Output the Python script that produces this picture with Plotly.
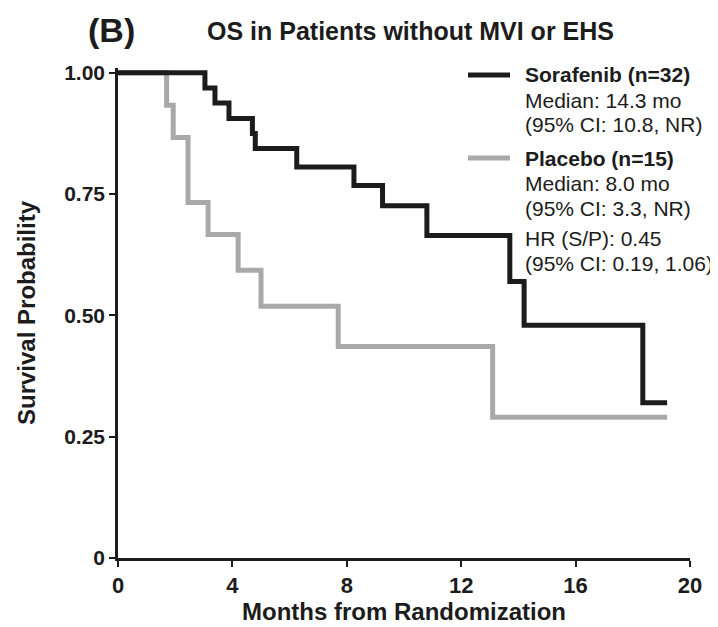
import plotly.graph_objects as go

# Kaplan-Meier step data (months, survival probability)
sora_t = [0, 3.04, 3.39, 3.88, 4.7, 4.8, 6.25, 8.25, 9.25, 10.8, 13.7, 14.2, 18.35, 19.2]
sora_s = [1.0, 0.969, 0.938, 0.906, 0.875, 0.844, 0.806, 0.768, 0.726, 0.665, 0.57, 0.48, 0.32, 0.32]

plac_t = [0, 1.7, 1.93, 2.45, 3.15, 4.2, 5.0, 7.7, 13.1, 19.2]
plac_s = [1.0, 0.933, 0.867, 0.733, 0.667, 0.593, 0.519, 0.436, 0.29, 0.29]

x_ticks = [0, 4, 8, 12, 16, 20]
y_ticks = [0, 0.25, 0.5, 0.75, 1.0]
y_tick_labels = ["0", "0.25", "0.50", "0.75", "1.00"]

sora_lines = ["<b>Sorafenib (n=32)</b>", "Median: 14.3 mo", "(95% CI: 10.8, NR)"]
plac_lines = ["<b>Placebo (n=15)</b>", "Median: 8.0 mo", "(95% CI: 3.3, NR)"]
hr_lines = ["HR (S/P): 0.45", "(95% CI: 0.19, 1.06)"]

BLACK = "#1c1c1c"
GRAY = "#a9a9a9"
FONT = "Liberation Sans, Arial, sans-serif"

# page body has an 8px default margin; compensate so the plot lands where the reference has it
OFF = 8
W, H = 718, 627
L, R, T, B = 118 - OFF, 28 + OFF, 68 - OFF, 69 + OFF
PW, PH = W - L - R, H - T - B


def px(xp):
    return (xp - OFF - L) / PW


def py(yp):
    return (H - B - (yp - OFF)) / PH


fig = go.Figure()
fig.add_trace(go.Scatter(x=plac_t, y=plac_s, mode="lines", line_shape="hv",
                         line=dict(color=GRAY, width=5), name="Placebo", showlegend=False))
fig.add_trace(go.Scatter(x=sora_t, y=sora_s, mode="lines", line_shape="hv",
                         line=dict(color=BLACK, width=5), name="Sorafenib", showlegend=False))

ann = []
# titles
ann.append(dict(text="<b>(B)</b>", x=px(111), y=py(30), xref="paper", yref="paper",
                xanchor="center", yanchor="middle",
                showarrow=False, font=dict(size=34, color=BLACK, family=FONT)))
ann.append(dict(text="<b>OS in Patients without MVI or EHS</b>", x=px(411), y=py(31),
                xref="paper", yref="paper", xanchor="center", yanchor="middle",
                showarrow=False, font=dict(size=25, color=BLACK, family=FONT)))

def add_block(lines, ys):
    for t, yy in zip(lines, ys):
        ann.append(dict(text=t, x=px(523), y=py(yy), xref="paper", yref="paper",
                        xanchor="left", yanchor="middle", showarrow=False,
                        font=dict(size=21, color=BLACK, family=FONT)))

add_block(sora_lines, [75, 100, 124])
add_block(plac_lines, [158, 184, 208])
add_block(hr_lines, [239, 263])

shapes = [
    dict(type="line", xref="paper", yref="paper", x0=px(468), x1=px(510),
         y0=py(75), y1=py(75), line=dict(color=BLACK, width=5)),
    dict(type="line", xref="paper", yref="paper", x0=px(468), x1=px(510),
         y0=py(158), y1=py(158), line=dict(color=GRAY, width=5)),
]

fig.update_layout(
    width=W, height=H,
    margin=dict(l=L, r=R, t=T, b=B, pad=0),
    paper_bgcolor="white", plot_bgcolor="white",
    annotations=ann, shapes=shapes,
    font=dict(family=FONT, color=BLACK),
    xaxis=dict(range=[0, 20], tickvals=x_ticks, ticktext=[str(v) for v in x_ticks],
               showgrid=False, zeroline=False, showline=True, linecolor=BLACK, linewidth=2.5,
               ticks="outside", ticklen=6, tickwidth=2, tickcolor=BLACK,
               tickfont=dict(size=22, family=FONT, color=BLACK, weight="bold"),
               title=dict(text="<b>Months from Randomization</b>", standoff=4,
                          font=dict(size=24, family=FONT, color=BLACK))),
    yaxis=dict(range=[0, 1.01], tickvals=y_ticks, ticktext=y_tick_labels,
               showgrid=False, zeroline=False, showline=True, linecolor=BLACK, linewidth=2.5,
               ticks="outside", ticklen=6, tickwidth=2, tickcolor=BLACK,
               tickfont=dict(size=21, family=FONT, color=BLACK, weight="bold"),
               title=dict(text="<b>Survival Probability</b>", standoff=22,
                          font=dict(size=24, family=FONT, color=BLACK))),
)

fig.write_html("out.html")
